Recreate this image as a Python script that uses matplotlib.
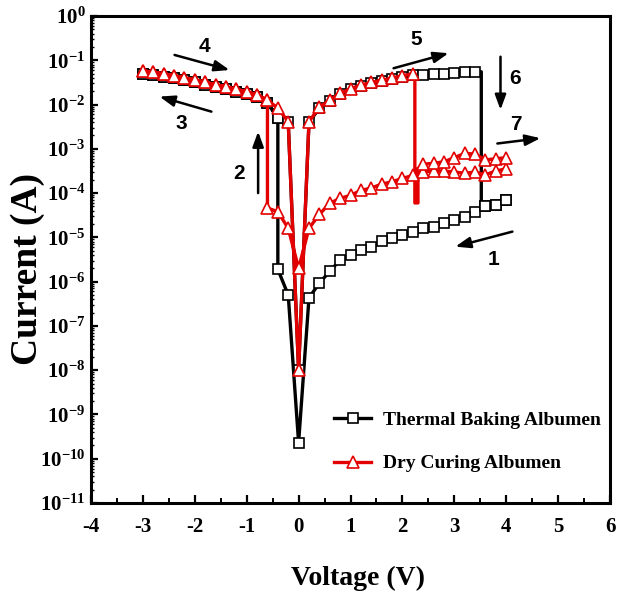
import matplotlib
matplotlib.use('Agg')
import matplotlib.pyplot as plt
import numpy as np
from matplotlib.ticker import LogLocator, MultipleLocator, FuncFormatter, NullFormatter

plt.rcParams['font.family'] = 'Liberation Serif'
plt.rcParams['font.weight'] = 'bold'
plt.rcParams['axes.unicode_minus'] = False
plt.rcParams['mathtext.fontset'] = 'custom'
plt.rcParams['mathtext.rm'] = 'Liberation Serif:bold'
plt.rcParams['mathtext.it'] = 'Liberation Serif:bold'
plt.rcParams['mathtext.bf'] = 'Liberation Serif:bold'
plt.rcParams['mathtext.default'] = 'rm'

# Thermal Baking Albumen: HRS sweep 4 V -> 0 -> -0.4 V
tb_hrs_v = [4.0, 3.8, 3.6, 3.4, 3.2, 3.0, 2.8, 2.6, 2.4, 2.2, 2.0, 1.8, 1.6, 1.4, 1.2, 1.0,
            0.8, 0.6, 0.4, 0.2, 0.0, -0.2, -0.4]
tb_hrs_i = [7.1e-5, 5.4e-5, 5.0e-5, 3.8e-5, 2.95e-5, 2.5e-5, 2.1e-5, 1.75e-5, 1.6e-5, 1.35e-5,
            1.15e-5, 9.5e-6, 8.1e-6, 6.2e-6, 5.2e-6, 4.0e-6, 3.1e-6, 1.7e-6, 9.3e-7, 4.3e-7,
            2.3e-10, 5.0e-7, 1.9e-6]
# LRS branch -3 V -> 3.4 V
tb_lrs_v = [-3.0, -2.8, -2.6, -2.4, -2.2, -2.0, -1.8, -1.6, -1.4, -1.2, -1.0, -0.8, -0.6, -0.4,
            -0.2, 0.0, 0.2, 0.4, 0.6, 0.8, 1.0, 1.2, 1.4, 1.6, 1.8, 2.0, 2.2, 2.4, 2.6, 2.8,
            3.0, 3.2, 3.4]
tb_lrs_i = [5.0e-2, 4.7e-2, 4.3e-2, 3.9e-2, 3.5e-2, 3.15e-2, 2.75e-2, 2.45e-2, 2.2e-2, 1.95e-2,
            1.7e-2, 1.45e-2, 1.1e-2, 5.0e-3, 4.0e-3, 1.0e-8, 4.0e-3, 8.2e-3, 1.2e-2, 1.7e-2,
            2.2e-2, 2.6e-2, 3.0e-2, 3.4e-2, 3.8e-2, 4.2e-2, 4.6e-2, 4.7e-2, 4.9e-2, 5.0e-2,
            5.25e-2, 5.4e-2, 5.5e-2]
tb_reset_v = [3.52, 3.52]
tb_reset_i = [5.5e-2, 5.3e-5]
tb_end_v = [3.6, 3.8, 4.0]
tb_end_i = [5.0e-5, 5.4e-5, 7.1e-5]

# Dry Curing Albumen: HRS sweep 4 V -> 0 -> -0.6 V
dc_hrs_v = [4.0, 3.8, 3.6, 3.4, 3.2, 3.0, 2.8, 2.6, 2.4, 2.2, 2.0, 1.8, 1.6, 1.4, 1.2, 1.0,
            0.8, 0.6, 0.4, 0.2, 0.0, -0.2, -0.4, -0.6]
dc_hrs_i = [3.55e-4, 3.15e-4, 2.6e-4, 3.0e-4, 2.8e-4, 3.0e-4, 3.15e-4, 3.15e-4, 3.0e-4, 2.5e-4,
            2.15e-4, 1.8e-4, 1.6e-4, 1.3e-4, 1.15e-4, 8.9e-5, 7.6e-5, 5.9e-5, 3.3e-5, 1.6e-5,
            2.0e-6, 1.6e-5, 3.8e-5, 4.6e-5]
dc_lrs_v = [-3.0, -2.8, -2.6, -2.4, -2.2, -2.0, -1.8, -1.6, -1.4, -1.2, -1.0, -0.8, -0.6, -0.4,
            -0.2, 0.0, 0.2, 0.4, 0.6, 0.8, 1.0, 1.2, 1.4, 1.6, 1.8, 2.0, 2.2]
dc_lrs_i = [5.75e-2, 5.4e-2, 4.9e-2, 4.5e-2, 4.0e-2, 3.6e-2, 3.2e-2, 2.8e-2, 2.5e-2, 2.2e-2,
            1.95e-2, 1.65e-2, 1.26e-2, 8.3e-3, 4.1e-3, 1.0e-8, 4.1e-3, 8.7e-3, 1.26e-2, 1.78e-2,
            2.3e-2, 2.75e-2, 3.15e-2, 3.55e-2, 4.0e-2, 4.45e-2, 5.0e-2]
dc_reset_v = [2.24, 2.24, 2.30, 2.30]
dc_reset_i = [5.0e-2, 6.0e-5, 6.0e-5, 3.6e-4]
dc_end_v = [2.4, 2.6, 2.8, 3.0, 3.2, 3.4, 3.6, 3.8, 4.0]
dc_end_i = [4.5e-4, 4.7e-4, 5.1e-4, 6.3e-4, 7.9e-4, 7.6e-4, 5.6e-4, 6.0e-4, 6.3e-4]

# sweep arrows: (tail V, tail I, head V, head I, label, label V, label I)
arrows = [
    (4.12, 10**-4.87, 3.02, 10**-5.21, '1', 3.76, 10**-5.51),
    (-0.78, 10**-4.0, -0.78, 10**-2.61, '2', -1.15, 10**-3.55),
    (-1.68, 10**-2.16, -2.68, 10**-1.82, '3', -2.26, 10**-2.42),
    (-2.39, 10**-0.88, -1.33, 10**-1.22, '4', -1.81, 10**-0.70),
    (1.83, 10**-1.18, 2.89, 10**-0.84, '5', 2.27, 10**-0.54),
    (3.89, 10**-0.92, 3.89, 10**-2.12, '6', 4.18, 10**-1.41),
    (3.83, 10**-2.88, 4.66, 10**-2.76, '7', 4.18, 10**-2.46),
]


def sweep_path(hrs_v, hrs_i, lrs_v, lrs_i, set_v, reset_v, reset_i, end_v, end_i):
    hrs_v, hrs_i = np.array(hrs_v), np.array(hrs_i)
    lrs_v, lrs_i = np.array(lrs_v), np.array(lrs_i)
    neg = lrs_v <= set_v + 1e-9
    v = np.concatenate([hrs_v, lrs_v[neg][::-1], lrs_v, reset_v, end_v])
    i = np.concatenate([hrs_i, lrs_i[neg][::-1], lrs_i, reset_i, end_i])
    # markers only on the 0.2 V measurement grid
    marks = np.where(np.isclose(v * 5, np.round(v * 5)))[0].tolist()
    return v, i, marks


tb_v, tb_i, tb_marks = sweep_path(tb_hrs_v, tb_hrs_i, tb_lrs_v, tb_lrs_i, -0.4,
                                  tb_reset_v, tb_reset_i, tb_end_v, tb_end_i)
dc_v, dc_i, dc_marks = sweep_path(dc_hrs_v, dc_hrs_i, dc_lrs_v, dc_lrs_i, -0.6,
                                  dc_reset_v, dc_reset_i, dc_end_v, dc_end_i)

fig = plt.figure(figsize=(6.32, 5.96), dpi=100)
ax = fig.add_axes([91 / 632, 93 / 596, 519 / 632, 487 / 596])

ax.plot(tb_v, tb_i, color='black', lw=2.4, marker='s', ms=6.5, mfc='white', mec='black',
        mew=1.2, markevery=tb_marks, label='Thermal Baking Albumen', zorder=3)
ax.plot(dc_v, dc_i, color='#e30000', lw=2.4, marker='^', ms=8, mfc='white', mec='#e30000',
        mew=1.2, markevery=dc_marks, label='Dry Curing Albumen', zorder=4)

for tv, ti, hv, hi, lab, lv, li in arrows:
    ax.annotate('', xy=(hv, hi), xytext=(tv, ti),
                arrowprops=dict(arrowstyle='-|>,head_length=0.6,head_width=0.22',
                                color='black', lw=1.8, mutation_scale=15,
                                shrinkA=0, shrinkB=0), zorder=5)
    ax.text(lv, li, lab, ha='center', va='center', fontsize=15, fontweight='bold',
            family='Liberation Sans', zorder=5)

ax.set_yscale('log')
ax.set_xlim(-4, 6)
ax.set_ylim(1e-11, 1)

ax.xaxis.set_major_locator(MultipleLocator(1))
ax.xaxis.set_minor_locator(MultipleLocator(0.5))
ax.yaxis.set_major_locator(LogLocator(base=10, numticks=20))
ax.yaxis.set_minor_locator(LogLocator(base=10, subs=np.arange(2, 10), numticks=20))
ax.yaxis.set_minor_formatter(NullFormatter())
ax.yaxis.set_major_formatter(FuncFormatter(lambda y, p: r'$10^{%d}$' % round(np.log10(y))))

ax.tick_params(axis='both', which='both', direction='in', top=False, right=False)
ax.tick_params(axis='x', which='major', length=6, width=1.6, pad=10, labelsize=15)
ax.tick_params(axis='x', which='minor', length=3.5, width=1.4)
ax.tick_params(axis='y', which='major', length=5, width=1.6, pad=4, labelsize=15)
ax.tick_params(axis='y', which='minor', length=2.5, width=1.0)
for s in ax.spines.values():
    s.set_linewidth(2.2)

ax.set_xlabel('Voltage (V)', fontsize=20, fontweight='bold')
ax.set_ylabel('Current (A)', fontsize=27, fontweight='bold')
ax.xaxis.set_label_coords(0.515, -0.13)
ax.yaxis.set_label_coords(-0.088, 0.48)

ax.legend(loc='upper left', bbox_to_anchor=(0.435, 0.225), frameon=False, numpoints=1,
          fontsize=14, handlelength=1.9, handletextpad=0.6, labelspacing=1.35)

fig.savefig('out.png', dpi=100)
